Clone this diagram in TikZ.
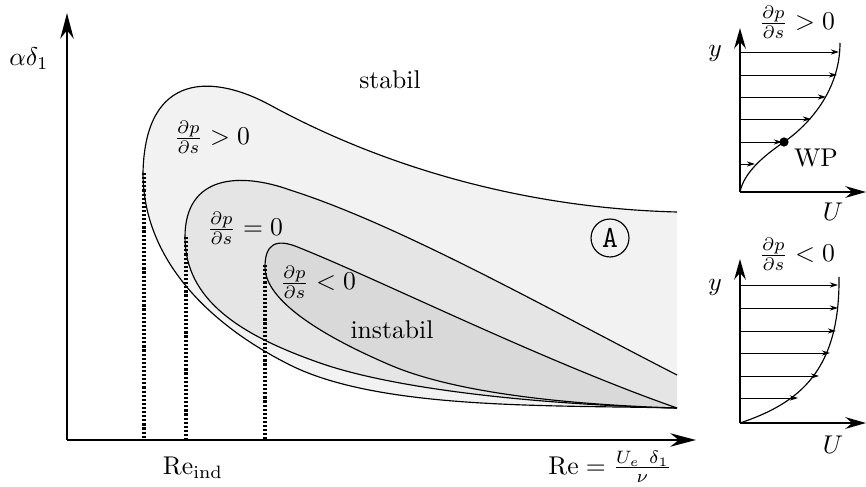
\documentclass[tikz,border=0pt]{standalone}
\usetikzlibrary{arrows.meta}

\tikzset{
  axis/.style={line width=1.1pt, -{Stealth[length=10pt,width=5.2pt]}},
  paxis/.style={line width=1.1pt, -{Stealth[length=8pt,width=4.5pt]}},
  vel/.style={line width=0.35pt, -{Stealth[length=3.2pt,width=2pt]}},
  bound/.style={line width=0.45pt, draw=black},
  reind/.style={line width=1.2pt, dash pattern=on 0.85pt off 0.75pt},
}

\begin{document}
\begin{tikzpicture}[x=0.0137cm, y=-0.0137cm]
        \useasboundingbox (0,0) rectangle (866,487);

        % Stability regions (fill closes at the right edge, stroke does not)
        \filldraw[bound, fill=gray!10] (677,212)
            .. controls (520,208) and (380,165) .. (270,105)
            .. controls (215,75) and (145,70) .. (143,173)
            .. controls (143,260) and (210,325) .. (290,365)
            .. controls (380,410) and (550,405) .. (677,408);
        \filldraw[bound, fill=gray!20] (677,375)
            .. controls (550,310) and (400,225) .. (290,190)
            .. controls (240,172) and (185,175) .. (185,237)
            .. controls (185,300) and (240,335) .. (320,363)
            .. controls (400,391) and (550,405) .. (677,408);
        \filldraw[bound, fill=gray!30] (677,408)
            .. controls (545,362) and (380,280) .. (300,248)
            .. controls (275,237) and (265,245) .. (265,267)
            .. controls (265,300) and (320,335) .. (390,365)
            .. controls (460,395) and (580,405) .. (677,408);

        % Axes
        \coordinate (O) at (67,440);
        \coordinate (Ytip) at (67,13);
        \coordinate (Xtip) at (696,440);
        \draw[axis] (O) -- (Ytip);
        \draw[axis] (O) -- (Xtip);

        % Indifference Reynolds numbers
        \coordinate (I1) at (144,173);
        \coordinate (I2) at (186,237);
        \coordinate (I3) at (265,265);
        \foreach \p in {I1,I2,I3}
            \draw[reind] (\p) -- (\p |- O);

        % Labels
        \node (alpha) at (29,59) {$\alpha\delta_1$};
        \node (reind) at (193,468) {$\mathrm{Re}_{\mathrm{ind}}$};
        \node (re) at (610,467) {$\mathrm{Re}=\frac{U_e\;\,\delta_1}{\nu}$};
        \node (stab) at (390,80) {stabil};
        \node (instab) at (392,330) {instabil};
        \node (gpos) at (212,137) {$\frac{\partial p}{\partial s}>0$};
        \node (gzero) at (245,228) {$\frac{\partial p}{\partial s}=0$};
        \node (gneg) at (318,282) {$\frac{\partial p}{\partial s}<0$};
        \node[draw, circle, line width=0.45pt, minimum size=0.52cm, inner sep=0pt,
              font=\large\ttfamily] (A) at (610,238) {A};

        % Velocity profile with inflection point
        \coordinate (P1) at (740,192);
        \draw[paxis] (P1) -- (740,28);
        \draw[paxis] (P1) -- (866,192);
        \draw[line width=0.45pt] (P1)
            .. controls (744,172) and (765,155) .. (784,142)
            .. controls (803,129) and (840,95) .. (840,43);
        \foreach \y/\u in {52/839, 75/837, 97/826, 119/811, 142/782, 164/755}
            \draw[vel] (740,\y) -- (\u,\y);
        \fill (784,142) circle (1.8pt);
        \node (wp) at (816,158) {WP};
        \node (y1) at (715,53) {$y$};
        \node (u1) at (833,212) {$U$};
        \node (t1) at (797,22) {$\frac{\partial p}{\partial s}>0$};

        % Velocity profile without inflection point
        \coordinate (P2) at (740,423);
        \draw[paxis] (P2) -- (740,259);
        \draw[paxis] (P2) -- (866,423);
        \draw[line width=0.45pt] (P2)
            .. controls (800,403) and (840,370) .. (839,277);
        \foreach \y/\u in {285/838, 308/838, 331/836, 353/830, 376/819, 398/798}
            \draw[vel] (740,\y) -- (\u,\y);
        \node (y2) at (715,287) {$y$};
        \node (u2) at (833,445) {$U$};
        \node (t2) at (797,254) {$\frac{\partial p}{\partial s}<0$};
\end{tikzpicture}
\end{document}
